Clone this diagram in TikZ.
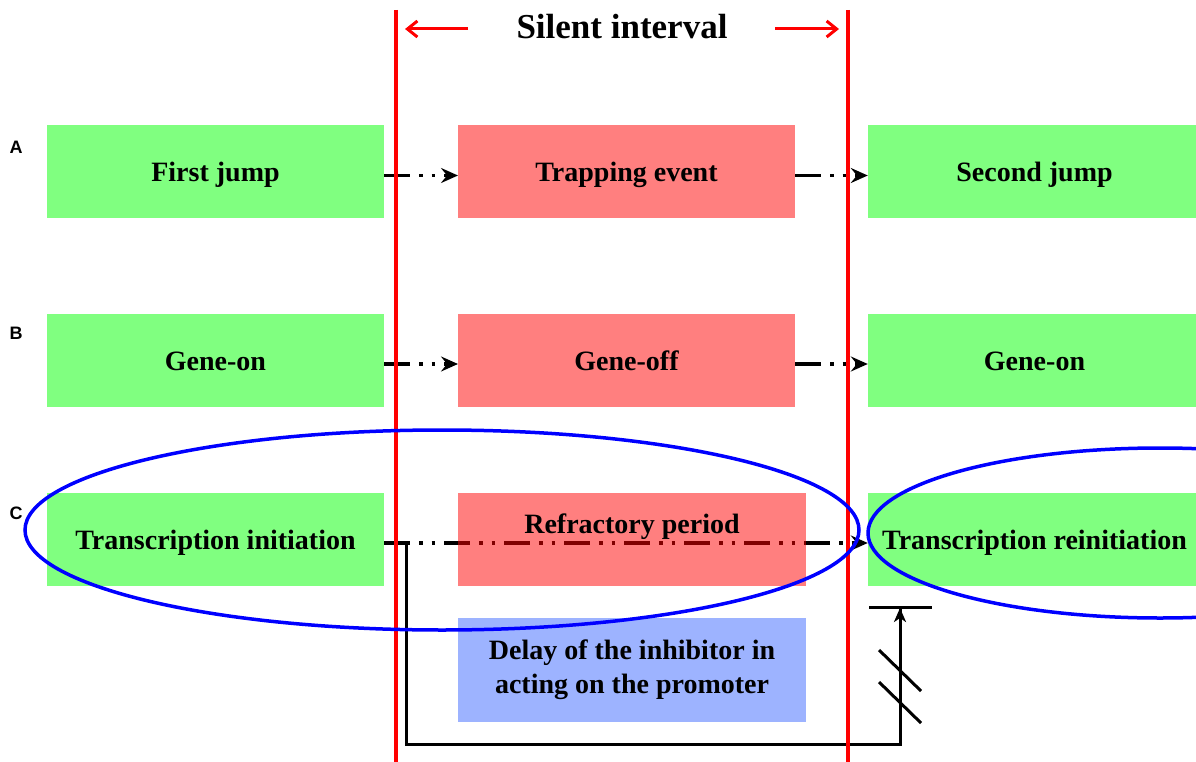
\documentclass[tikz,border=0pt]{standalone}
\usepackage{fontspec}
\setmainfont{Liberation Serif}
\newfontfamily\labfont{Liberation Sans}
\usetikzlibrary{arrows.meta}
\definecolor{boxgreen}{HTML}{80FF80}
\definecolor{boxred}{HTML}{FF0000}
\definecolor{boxblue}{HTML}{9DB3FF}
\begin{document}
\begin{tikzpicture}[x=1pt,y=-1pt,
  gbox/.style={fill=boxgreen,minimum width=337pt,minimum height=93pt,inner sep=0pt,text height=20pt,text depth=0pt,font=\fontsize{28}{32}\selectfont\bfseries},
  rbox/.style={fill=boxred,fill opacity=0.5,text opacity=1,minimum width=337pt,minimum height=93pt,inner sep=0pt,text height=20pt,text depth=0pt,font=\fontsize{28}{32}\selectfont\bfseries},
  plaintext/.style={inner sep=0pt,text height=20pt,text depth=0pt,font=\fontsize{28}{32}\selectfont\bfseries},
  rowlab/.style={inner sep=0pt,font=\labfont\fontsize{18}{20}\selectfont\bfseries},
  flow/.style={line width=3.5pt,dash pattern=on 26pt off 9pt on 3.5pt off 9pt on 3.5pt off 9pt,-{Stealth[length=17pt,width=15pt,inset=6pt]}},
  silent/.style={red,line width=3.2pt},
  redarr/.style={red,line width=3pt,-{Straight Barb[length=10pt,width=16pt]}},
  fb/.style={line width=3pt},
  ell/.style={blue,line width=3.5pt}]
\useasboundingbox (0,0) rectangle (1196,762);
% row labels
\node[rowlab] (la) at (16,147) {A};
\node[rowlab] (lb) at (16,333) {B};
\node[rowlab] (lc) at (16,513) {C};
% row A
\node[gbox] (a1) at (215.5,171.5) {First jump};
\node[gbox,minimum width=333pt] (a3) at (1034.5,171.5) {Second jump};
\draw[flow] ([yshift=-4pt]a1.east) -- (458,175.5) coordinate (a2w);
\node[rbox] (a2) at (626.5,171.5) {Trapping event};
\draw[flow] ([yshift=-4pt]a2.east) -- ([yshift=-4pt]a3.west);
% row B
\node[gbox] (b1) at (215.5,360) {Gene-on};
\node[gbox,minimum width=333pt] (b3) at (1034.5,360) {Gene-on};
\draw[flow] ([yshift=-4pt]b1.east) -- (458,364);
\node[rbox] (b2) at (626.5,360) {Gene-off};
\draw[flow] ([yshift=-4pt]b2.east) -- ([yshift=-4pt]b3.west);
% row C
\node[gbox] (c1) at (215.5,539) {Transcription initiation};
\node[gbox,minimum width=333pt] (c3) at (1034.5,539) {Transcription reinitiation};
\draw[flow] ([yshift=-4pt]c1.east) -- ([yshift=-4pt]c3.west);
\node[rbox,minimum width=348pt] (c2) at (632,539) {};
\node[plaintext] (c2t) at (632,523) {Refractory period};
\node[fill=boxblue,minimum width=348pt,minimum height=104pt,inner sep=0pt,align=center,font=\fontsize{28}{34}\selectfont\bfseries] (d) at (632,670) {Delay of the inhibitor in\\acting on the promoter};
% feedback
\coordinate (fs) at (406,543);
\coordinate (fbot) at (406,744);
\coordinate (fcor) at (900,744);
\coordinate (ftop) at (900,608);
\draw[fb] (fs) -- (fbot) -- (fcor) -- (ftop);
\draw[fb,-{Stealth[length=14pt,width=12pt,inset=4pt]}] (fcor) -- (ftop);
\draw[fb] (869,607) -- (932,607);
\draw[fb] (879,650) -- (921,691);
\draw[fb] (879,682) -- (921,723);
% silent interval
\draw[silent] (396,10) -- (396,762);
\draw[silent] (848,10) -- (848,762);
\node[inner sep=0pt,font=\fontsize{35}{40}\selectfont\bfseries] (title) at (622,27) {Silent interval};
\draw[redarr] (468,29) -- (405,29);
\draw[redarr] (775,29) -- (839,29);
% ellipses
\begin{scope}
\clip (0,0) rectangle (1196,762);
\draw[ell] (442,530) ellipse [x radius=417, y radius=100];
\draw[ell] (1160,533) ellipse [x radius=292, y radius=85];
\end{scope}
\end{tikzpicture}
\end{document}
